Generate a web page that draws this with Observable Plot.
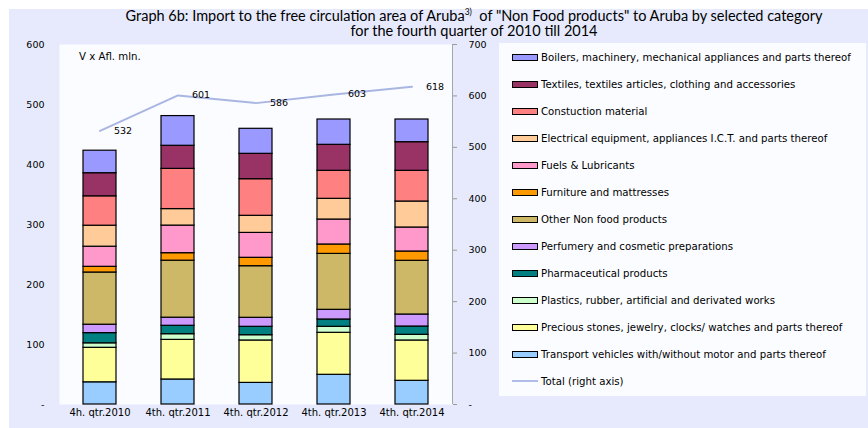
<!DOCTYPE html>
<html>
<head>
<meta charset="utf-8">
<script src="https://cdn.jsdelivr.net/npm/d3@7"></script>
<script src="https://cdn.jsdelivr.net/npm/@observablehq/plot@0.6"></script>
<style>
  body { margin: 0; background: #ffffff; }
  #wrap { position: relative; width: 868px; height: 428px; overflow: hidden; background: #ffffff; }
  #panel { position: absolute; left: 9px; top: 9px; width: 859px; height: 419px; background: #e6eafc; }
  #title { position: absolute; left: 74px; top: 8px; width: 800px; text-align: center; font-family: Lato, "Liberation Sans", sans-serif; font-size: 14.5px; line-height: 15px; color: #000; white-space: nowrap; }
  #title sup { font-size: 8.5px; line-height: 0; }
  #chart { position: absolute; left: 0; top: 0; }
  #unit { position: absolute; left: 79px; top: 51px; font-family: "DejaVu Sans", sans-serif; font-size: 10.2px; color: #000; }
  #legend { position: absolute; left: 499px; top: 43px; width: 367px; height: 353px; background: #fbfcff; font-family: "DejaVu Sans", sans-serif; font-size: 10.2px; color: #000; }
  .item { position: absolute; left: 13px; height: 12px; display: flex; align-items: center; white-space: nowrap; }
  .sw { width: 24px; height: 5px; border: 1px solid #000; margin-right: 3px; box-sizing: content-box; }
  .ln { width: 26px; height: 0; border-top: 2px solid #b0bce6; margin-right: 3px; }
</style>
</head>
<body>
<div id="wrap">
  <div id="panel"></div>
  <div id="title">Graph 6b: Import to the free circulation area of Aruba<sup>3)</sup>&nbsp; of "Non Food products" to Aruba by selected category<br>for the fourth quarter of 2010 till 2014</div>
  <div id="chart"></div>
  <div id="unit">V x Afl. mln.</div>
  <div id="legend"></div>
</div>
<script>
const quarters = ["4h. qtr.2010", "4th. qtr.2011", "4th. qtr.2012", "4th. qtr.2013", "4th. qtr.2014"];

// stacking order bottom -> top
const categories = [
  "Transport vehicles with/without motor and parts thereof",
  "Precious stones, jewelry, clocks/ watches and parts thereof",
  "Plastics, rubber, artificial and derivated works",
  "Pharmaceutical products",
  "Perfumery and cosmetic preparations",
  "Other Non food products",
  "Furniture and mattresses",
  "Fuels & Lubricants",
  "Electrical equipment, appliances  I.C.T. and parts thereof",
  "Constuction material",
  "Textiles, textiles articles, clothing and accessories",
  "Boilers, machinery, mechanical appliances and parts thereof"
];
const colors = ["#99ccff", "#ffff99", "#ccffcc", "#008080", "#cc99ff", "#ccb866", "#ff9900", "#ff99cc", "#ffcc99", "#ff8080", "#993366", "#9999ff"];

const transport    = [37, 41.7, 36, 49.5, 39.5];
const precious     = [57.5, 66, 70.7, 70, 67.2];
const plastics     = [7.5, 9.5, 8.8, 10, 9.5];
const pharma       = [17, 14, 14, 12.2, 13.8];
const perfumery    = [14, 13.5, 15, 16.1, 20];
const otherNonFood = [87, 95, 86, 93.2, 89.5];
const furniture    = [9.5, 12.5, 14, 15.7, 15.5];
const fuels        = [33.5, 46, 41.5, 41.6, 40];
const electrical   = [35, 27.5, 28.5, 34.5, 43.3];
const construction = [49, 67, 61, 46.7, 51.2];
const textiles     = [38.5, 38.5, 42.3, 43.3, 47.7];
const boilers      = [37.5, 49.5, 41.7, 42.2, 37.8];

const totals = [532, 601, 586, 603, 618];

const series = [transport, precious, plastics, pharma, perfumery, otherNonFood, furniture, fuels, electrical, construction, textiles, boilers];

const rows = [];
series.forEach((vals, i) => vals.forEach((v, j) => rows.push({quarter: quarters[j], category: categories[i], value: v})));
const lineRows = quarters.map((q, j) => ({quarter: q, total: totals[j]}));

const leftMax = 600, rightMax = 700;
const toLeft = v => v * leftMax / rightMax;
const dash = d => d === 0 ? "-" : d;

const chart = Plot.plot({
  width: 868,
  height: 428,
  marginLeft: 59,
  marginRight: 416,
  marginTop: 44,
  marginBottom: 24,
  style: {background: "transparent", fontFamily: "DejaVu Sans, sans-serif", fontSize: "9.5px", color: "#000"},
  x: {domain: quarters, padding: 0.58, paddingOuter: 0.29, label: null},
  y: {domain: [0, leftMax], label: null},
  color: {domain: categories, range: colors},
  marks: [
    Plot.frame({fill: "#fbfcff", stroke: null}),
    Plot.axisY({anchor: "left", ticks: d3.range(0, 601, 100), tickSize: 0, tickPadding: 15, tickFormat: dash, label: null}),
    Plot.axisY({anchor: "right", ticks: d3.range(0, 701, 100).map(toLeft), tickSize: 4, tickPadding: 12, tickFormat: d => dash(Math.round(d * rightMax / leftMax)), label: null, stroke: "#999"}),
    Plot.axisX({tickSize: 0, tickPadding: 4, fontSize: "10px", label: null}),
    Plot.barY(rows, {x: "quarter", y: "value", fill: "category", order: categories, stroke: "#000", strokeWidth: 1.2}),
    Plot.line(lineRows, {x: "quarter", y: d => toLeft(d.total), stroke: "#aab6e2", strokeWidth: 2}),
    Plot.text(lineRows, {x: "quarter", y: d => toLeft(d.total), text: d => String(d.total), dx: 23, fontSize: "9.5px", fill: "#000"})
  ]
});
document.getElementById("chart").appendChild(chart);

// right axis line
const svg = d3.select(chart);
svg.append("line").attr("x1", 452.5).attr("x2", 452.5).attr("y1", 44).attr("y2", 404).attr("stroke", "#a6a6a6").attr("stroke-width", 1);

// legend (top -> bottom)
const legend = document.getElementById("legend");
const legendOrder = categories.map((c, i) => ({c, col: colors[i]})).reverse();
legendOrder.forEach((d, k) => {
  const it = document.createElement("div");
  it.className = "item";
  it.style.top = (57 + 27 * k - 43 - 6) + "px";
  it.innerHTML = `<span class="sw" style="background:${d.col}"></span><span>${d.c}</span>`;
  legend.appendChild(it);
});
const tot = document.createElement("div");
tot.className = "item";
tot.style.top = (57 + 27 * 12 - 43 - 6) + "px";
tot.innerHTML = `<span class="ln"></span><span>Total (right axis)</span>`;
legend.appendChild(tot);
</script>
</body>
</html>
